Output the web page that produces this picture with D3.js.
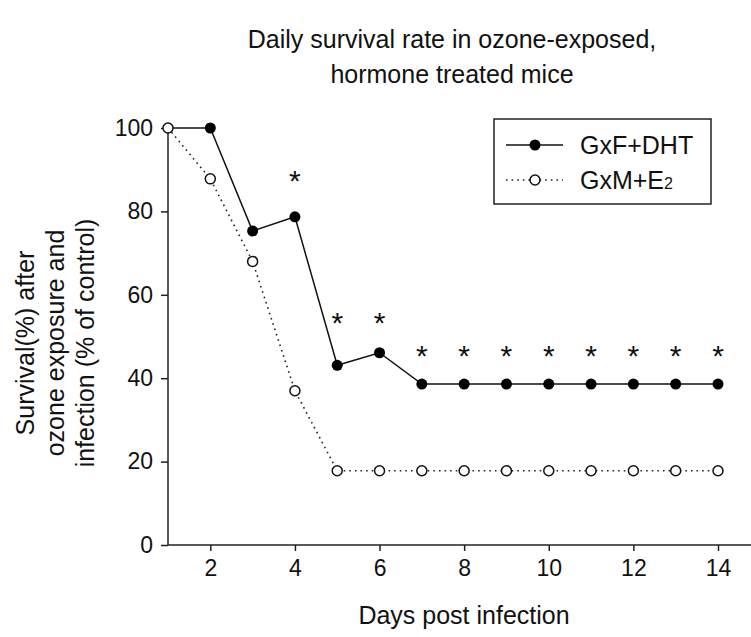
<!DOCTYPE html>
<html>
<head>
<meta charset="utf-8">
<script src="https://cdn.jsdelivr.net/npm/d3@7"></script>
<style>
  html, body { margin: 0; padding: 0; background: #fff; }
  svg text { font-family: Arial, "Liberation Sans", sans-serif; fill: #111; }
</style>
</head>
<body>
<svg id="chart" width="751" height="637"></svg>
<script>
const days = [1, 2, 3, 4, 5, 6, 7, 8, 9, 10, 11, 12, 13, 14];
const dhtValues = [100, 100, 75.3, 78.7, 43.1, 46.1, 38.6, 38.6, 38.6, 38.6, 38.6, 38.6, 38.6, 38.6];
const e2Values = [100, 87.8, 68.0, 37.0, 17.8, 17.8, 17.8, 17.8, 17.8, 17.8, 17.8, 17.8, 17.8, 17.8];
const starDays = [4, 5, 6, 7, 8, 9, 10, 11, 12, 13, 14];
const starLevels = [88, 54, 54, 46, 46, 46, 46, 46, 46, 46, 46];
const xTicks = [2, 4, 6, 8, 10, 12, 14];
const yTicks = [0, 20, 40, 60, 80, 100];
const seriesNames = ["GxF+DHT", "GxM+E"];
const titleLines = ["Daily survival rate in ozone-exposed,", "hormone treated mice"];
const yLabelLines = ["Survival(%) after", "ozone exposure and", "infection (% of control)"];
const xLabel = "Days post infection";

const svg = d3.select("#chart");
const x = d3.scaleLinear().domain([1, 14]).range([168, 718]);
const y = d3.scaleLinear().domain([0, 100]).range([545, 128]);

// axes
const xAxis = d3.axisBottom(x).tickValues(xTicks).tickSize(6).tickPadding(9).tickFormat(d3.format("d"));
const gx = svg.append("g").attr("transform", "translate(0,545)").call(xAxis);
gx.select(".domain").remove();
gx.append("line").attr("x1", x(1)).attr("x2", 760).attr("y1", 0).attr("y2", 0)
  .attr("stroke", "#222").attr("stroke-width", 1.5);
gx.selectAll(".tick line").attr("stroke", "#222").attr("stroke-width", 1.5);
gx.selectAll(".tick text").attr("font-size", 23).attr("fill", "#111");

const yAxis = d3.axisLeft(y).tickValues(yTicks).tickSize(7).tickPadding(8);
const gy = svg.append("g").attr("transform", `translate(${x(1)},0)`).call(yAxis);
gy.select(".domain").attr("stroke", "#222").attr("stroke-width", 1.5).attr("d", `M0,${y(0)}V${y(100)}`);
gy.selectAll(".tick line").attr("stroke", "#222").attr("stroke-width", 1.5);
gy.selectAll(".tick text").attr("font-size", 23).attr("fill", "#111");

// lines
const dht = days.map((d, i) => ({ d, v: dhtValues[i] }));
const e2 = days.map((d, i) => ({ d, v: e2Values[i] }));
const line = d3.line().x(p => x(p.d)).y(p => y(p.v));

svg.append("path").datum(e2).attr("d", line).attr("fill", "none")
  .attr("stroke", "#222").attr("stroke-width", 1.6).attr("stroke-dasharray", "1.6,4");
svg.append("path").datum(dht).attr("d", line).attr("fill", "none")
  .attr("stroke", "#111").attr("stroke-width", 1.5);

svg.selectAll(".dhtpt").data(dht.slice(1)).enter().append("circle")
  .attr("cx", p => x(p.d)).attr("cy", p => y(p.v)).attr("r", 5.5).attr("fill", "#000");
svg.selectAll(".e2pt").data(e2).enter().append("circle")
  .attr("cx", p => x(p.d)).attr("cy", p => y(p.v)).attr("r", 5)
  .attr("fill", "#fff").attr("stroke", "#111").attr("stroke-width", 1.5);

// significance stars
svg.selectAll(".star").data(starDays).enter().append("text")
  .attr("x", d => x(d)).attr("y", (d, i) => y(starLevels[i]) + 13)
  .attr("text-anchor", "middle").attr("font-size", 30).attr("fill", "#111").text("*");

// legend
const lg = svg.append("g");
lg.append("rect").attr("x", 494).attr("y", 119).attr("width", 217).attr("height", 85)
  .attr("fill", "#fff").attr("stroke", "#222").attr("stroke-width", 1.5);
lg.append("line").attr("x1", 506).attr("x2", 563).attr("y1", 145).attr("y2", 145)
  .attr("stroke", "#111").attr("stroke-width", 1.5);
lg.append("circle").attr("cx", 535).attr("cy", 145).attr("r", 5.5).attr("fill", "#000");
lg.append("line").attr("x1", 506).attr("x2", 563).attr("y1", 180).attr("y2", 180)
  .attr("stroke", "#222").attr("stroke-width", 1.6).attr("stroke-dasharray", "1.6,4");
lg.append("circle").attr("cx", 535).attr("cy", 180).attr("r", 5)
  .attr("fill", "#fff").attr("stroke", "#111").attr("stroke-width", 1.5);
lg.append("text").attr("x", 580).attr("y", 154).attr("font-size", 25).text(seriesNames[0]);
const t2 = lg.append("text").attr("x", 580).attr("y", 189).attr("font-size", 25).text(seriesNames[1]);
t2.append("tspan").attr("font-size", 16).text("2");

// title
svg.append("text").attr("text-anchor", "middle").attr("font-size", 25)
  .selectAll("tspan").data(titleLines).enter().append("tspan")
  .attr("x", 452).attr("y", (d, i) => 48 + i * 35).text(d => d);

// y label
svg.selectAll("text.ylab").data(yLabelLines).enter().append("text").attr("class", "ylab")
  .attr("transform", (d, i) => `translate(${34 + i * 30},343) rotate(-90)`)
  .attr("text-anchor", "middle").attr("font-size", 25).text(d => d);

// x label
svg.append("text").attr("x", 464).attr("y", 624).attr("text-anchor", "middle").attr("font-size", 25).text(xLabel);
</script>
</body>
</html>
